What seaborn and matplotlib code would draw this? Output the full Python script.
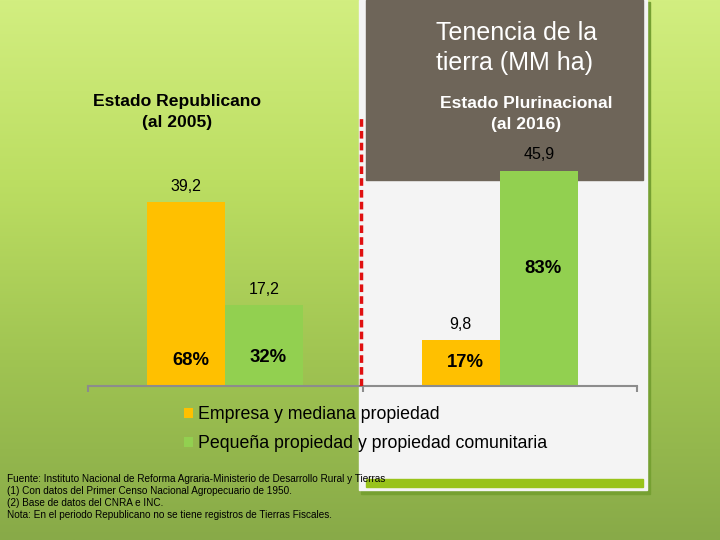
import numpy as np
import pandas as pd
import matplotlib
matplotlib.use("Agg")
import matplotlib.pyplot as plt
import seaborn as sns
from matplotlib.patches import Rectangle
from matplotlib.colors import LinearSegmentedColormap

# data
periodos = ["Estado Republicano", "Estado Plurinacional"]
subtitulos = ["Estado Republicano\n(al 2005)", "Estado Plurinacional\n(al 2016)"]
tipos = ["Empresa y mediana propiedad", "Pequeña propiedad y propiedad comunitaria"]
empresa = [39.2, 9.8]
pequena = [17.2, 45.9]
pct_empresa = ["68%", "17%"]
pct_pequena = ["32%", "83%"]
notas = [
    "Fuente: Instituto Nacional de Reforma Agraria-Ministerio de Desarrollo Rural y Tierras",
    "(1) Con datos del Primer Censo Nacional Agropecuario de 1950.",
    "(2) Base de datos del CNRA e INC.",
    "Nota: En el periodo Republicano no se tiene registros de Tierras Fiscales.",
]

amarillo = "#FFC000"
verde = "#92D050"

df = pd.DataFrame({
    "periodo": periodos * 2,
    "tipo": [tipos[0]] * 2 + [tipos[1]] * 2,
    "superficie": empresa + pequena,
})

sns.set_style("white")
plt.rcParams["font.family"] = ["Liberation Sans", "DejaVu Sans"]
plt.rcParams["text.color"] = "black"

fig = plt.figure(figsize=(7.2, 5.4), dpi=100)

# background in pixel coordinates
bg = fig.add_axes([0, 0, 1, 1])
bg.set_xlim(0, 720)
bg.set_ylim(540, 0)
bg.axis("off")
cmap = LinearSegmentedColormap.from_list("fondo", ["#D2EE80", "#BCDE62", "#A0C452", "#88AA48"])
grad = np.linspace(0, 1, 256).reshape(-1, 1)
bg.imshow(grad, cmap=cmap, aspect="auto", extent=[0, 720, 540, 0], zorder=0)

# white panel with green shadow
bg.add_patch(Rectangle((361, 2), 289, 492, color="#76A032", zorder=1))
bg.add_patch(Rectangle((359, 0), 288, 490, color="#F4F4F4", zorder=2))
bg.add_patch(Rectangle((366, 0), 277, 180, color="#6E6559", zorder=3))
bg.add_patch(Rectangle((366, 479), 277, 8, color="#99C31A", zorder=3))

bg.text(436, 48, "Tenencia de la\ntierra (MM ha)", color="white", fontsize=18,
        ha="left", va="center", linespacing=1.35, zorder=4)
bg.text(177, 112, subtitulos[0], color="black", fontsize=12.6, fontweight="bold",
        ha="center", va="center", linespacing=1.5, zorder=4)
bg.text(526, 114, subtitulos[1], color="white", fontsize=12.6, fontweight="bold",
        ha="center", va="center", linespacing=1.5, zorder=4)

for i, linea in enumerate(notas):
    bg.text(7, 479 + 12 * i, linea, fontsize=7.2, ha="left", va="center", zorder=4)

# chart
ax = fig.add_axes([88 / 720, 154 / 540, 549 / 720, 386 / 540])
ax.patch.set_alpha(0)
sns.barplot(data=df, x="periodo", y="superficie", hue="tipo", order=periodos,
            hue_order=tipos, palette=[amarillo, verde], saturation=1,
            width=0.568, gap=0, linewidth=0, errorbar=None, ax=ax)
ax.set_xlim(-0.5, 1.5)
ax.set_ylim(0, 82.3)
ax.set_xlabel("")
ax.set_ylabel("")
ax.set_yticks([])
ax.set_xticks([-0.5, 0.5, 1.5])
ax.set_xticklabels([])
ax.tick_params(axis="x", length=4, width=1.5, color="#8C8C8C", bottom=True)
for s in ["top", "left", "right"]:
    ax.spines[s].set_visible(False)
ax.spines["bottom"].set_color("#8C8C8C")
ax.spines["bottom"].set_linewidth(1.5)

# divider
ax.vlines(0.495, 0, 57.5, colors="#E01010", linestyles=(0, (2.2, 1.2)), linewidth=2.5, zorder=5)

pct_y = [[5.5, 5.1], [6.0, 25.0]]
for cont, vals, pcts, py in zip(ax.containers, [empresa, pequena], [pct_empresa, pct_pequena], pct_y):
    for bar, v, p, yy in zip(cont, vals, pcts, py):
        cx = bar.get_x() + bar.get_width() / 2
        ax.annotate(f"{v:.1f}".replace(".", ","), (cx, bar.get_height()),
                    xytext=(0, 6), textcoords="offset points", ha="center", va="bottom",
                    fontsize=11.5, color="black")
        ax.text(cx + 0.015, yy, p, ha="center", va="center", fontsize=13.3,
                fontweight="bold", color="black")

sns.move_legend(ax, "upper left", bbox_to_anchor=(184 / 720, 1 - 406 / 540),
                bbox_transform=fig.transFigure, frameon=False, title=None, fontsize=12.8,
                handlelength=0.5, handleheight=0.5, handletextpad=0.3, labelspacing=0.7,
                borderpad=0, borderaxespad=0, labelcolor="black")

fig.savefig("out.png", dpi=100)
